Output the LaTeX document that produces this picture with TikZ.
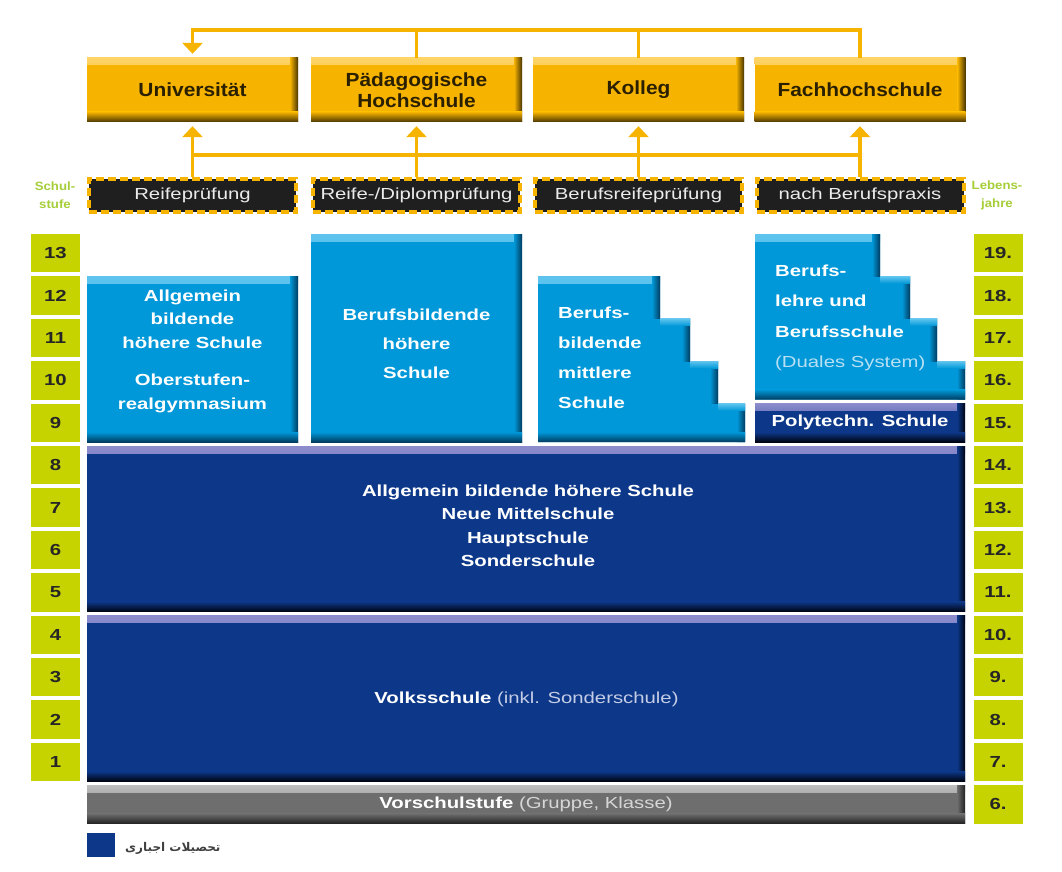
\documentclass[tikz,border=0pt]{standalone}
\usepackage{fontspec}
\usetikzlibrary{arrows.meta,calc}
\setmainfont{Liberation Sans}
\newfontfamily\hv[FakeStretch=1.27]{Liberation Sans}
\newfontfamily\hvy[FakeStretch=1.1]{Liberation Sans}
\newfontfamily\arabicfont[Script=Arabic]{DejaVu Sans}
\TeXXeTstate=1
\definecolor{yel}{HTML}{F6B400}
\definecolor{yell}{HTML}{FFD466}
\definecolor{yeld}{HTML}{4A3500}
\definecolor{lb}{HTML}{0098D8}
\definecolor{lbl}{HTML}{5EC4EE}
\definecolor{lbd}{HTML}{003C60}
\definecolor{db}{HTML}{0D3889}
\definecolor{dbl}{HTML}{8C8CCC}
\definecolor{dbd}{HTML}{000412}
\definecolor{gr}{HTML}{6E6E6E}
\definecolor{grl}{HTML}{BEBEBE}
\definecolor{grd}{HTML}{222222}
\definecolor{nbg}{HTML}{C6D300}
\definecolor{lgreen}{HTML}{A6CE39}
\definecolor{lbtxt}{HTML}{B8E0F4}
\definecolor{dbtxt}{HTML}{C4CCE6}
\definecolor{grtxt}{HTML}{D6D6D6}
\definecolor{ytxt}{HTML}{2A2000}
\begin{document}
\begin{tikzpicture}[x=1pt,y=-1pt,
  bevel/.style n args={3}{fill=#1, path picture={
    \shade[top color=#2, bottom color=#1] (path picture bounding box.north west) rectangle ([yshift=-7pt]path picture bounding box.north east);
    \shade[left color=#1, right color=#3] ([xshift=-8pt]path picture bounding box.north east) rectangle (path picture bounding box.south east);
    \shade[top color=#1, bottom color=#3] ([yshift=10pt]path picture bounding box.south west) rectangle (path picture bounding box.south east);
  }},
  ybox/.style={bevel={yel}{yell}{yeld}, minimum width=211pt, minimum height=64pt, inner sep=0pt,
    font=\hvy\bfseries\fontsize{19}{21}\selectfont, text=ytxt, align=center},
  exam/.style={fill=black!88, draw=yel, line width=4pt, dash pattern=on 8pt off 4pt,
    minimum width=207pt, minimum height=33pt, inner sep=0pt,
    font=\hv\fontsize{16}{18}\selectfont, text=black!8},
  conn/.style={draw=yel, line width=3.5pt},
  arr/.style={-{Triangle[width=20pt,length=11pt]}, shorten >=4pt},
  numbox/.style={fill=nbg, minimum width=49pt, minimum height=38.4pt, inner sep=0pt,
    font=\hv\bfseries\fontsize{16}{18}\selectfont, text=black!85},
  lbl/.style={font=\hvy\bfseries\fontsize{12}{18}\selectfont, text=lgreen, align=center, inner sep=0pt},
  lbbox/.style={bevel={lb}{lbl}{lbd}, inner sep=0pt},
  dbbox/.style={bevel={db}{dbl}{dbd}, inner sep=0pt},
  grbox/.style={bevel={gr}{grl}{grd}, inner sep=0pt},
  wtxt/.style={font=\hv\bfseries\fontsize{16}{23.5}\selectfont, text=white, inner sep=0pt},
  rstrip/.style={left color=lb, right color=lbd},
  tstrip/.style={top color=lbl, bottom color=lb},
]
\useasboundingbox (0,0) rectangle (1062,872);
\fill[white] (0,0) rectangle (1062,872);

% top level institutions
\node[ybox] (uni) at (192.5,90) {Universität};
\node[ybox] (paed) at (416.5,90) {Pädagogische\\Hochschule};
\node[ybox] (kolleg) at (638.5,90) {Kolleg};
\node[ybox] (fh) at (860,90) {Fachhochschule};

% exams
\node[exam] (e1) at (192.5,195.5) {Reifeprüfung};
\node[exam] (e2) at (416.5,195.5) {Reife-/Diplomprüfung};
\node[exam] (e3) at (638.5,195.5) {Berufsreifeprüfung};
\node[exam] (e4) at (860,195.5) {nach Berufspraxis};

% connectors
\coordinate (ytop) at (0,30);
\coordinate (ymid) at (0,155);
\draw[conn] (e1.north |- ymid) -- (e4.north |- ymid);
\foreach \e/\t in {e1/uni,e2/paed,e3/kolleg,e4/fh}
  \draw[conn,arr] (\e.north) -- (\t.south);
\draw[conn] (paed.north) -- (paed.north |- ytop);
\draw[conn] (kolleg.north) -- (kolleg.north |- ytop);
\draw[conn,arr] (fh.north) |- (uni.north |- ytop) -- (uni.north);

% side labels
\node[lbl] (schul) at (55,195) {Schul-\\stufe};
\node[lbl] (lebens) at (997,195) {Lebens-\\jahre};

% number boxes
\foreach \r in {1,...,13}{
  \pgfmathsetmacro\yy{253.2+(13-\r)*42.4}
  \node[numbox] (L\r) at (55.5,\yy) {\r};
}
\foreach \r in {0,...,13}{
  \pgfmathsetmacro\yy{253.2+(13-\r)*42.4}
  \pgfmathtruncatemacro\age{\r+6}
  \node[numbox] (R\r) at (998,\yy) {\age.};
}

% upper secondary
\node[lbbox, minimum width=211pt, minimum height=165.6pt] (ahs) at (192.5,359.2) {};
\node[wtxt, align=center] (ahs-t) at (192.5,351) {Allgemein\\bildende\\höhere Schule\\[14pt]Oberstufen-\\realgymnasium};

\node[lbbox, minimum width=211pt, minimum height=208pt] (bhs) at (416.5,338) {};
\node[wtxt, align=center, font=\hv\bfseries\fontsize{16}{29}\selectfont] (bhs-t) at (416.5,344) {Berufsbildende\\höhere\\Schule};

% BMS staircase
\path[bevel={lb}{lbl}{lbd}] (538,276.4) -- (660,276.4) -- (660,318.8) -- (690,318.8) -- (690,361.2)
  -- (718,361.2) -- (718,403.6) -- (745,403.6) -- (745,442) -- (538,442) -- cycle;
\shade[rstrip] (652,276.4) rectangle (660,318.8);
\shade[rstrip] (682,318.8) rectangle (690,361.2);
\shade[rstrip] (710,361.2) rectangle (718,403.6);
\shade[tstrip] (660,318.8) rectangle (690,325.8);
\shade[tstrip] (690,361.2) rectangle (718,368.2);
\shade[tstrip] (718,403.6) rectangle (745,410.6);
\node[wtxt, align=left, anchor=west, font=\hv\bfseries\fontsize{16}{30}\selectfont] (bms-t) at (558,358) {Berufs-\\bildende\\mittlere\\Schule};

% Berufslehre staircase
\path[bevel={lb}{lbl}{lbd}] (755,234) -- (880,234) -- (880,276.4) -- (910,276.4) -- (910,318.8)
  -- (937,318.8) -- (937,361.2) -- (965,361.2) -- (965,399.6) -- (755,399.6) -- cycle;
\shade[rstrip] (872,234) rectangle (880,276.4);
\shade[rstrip] (902,276.4) rectangle (910,318.8);
\shade[rstrip] (929,318.8) rectangle (937,361.2);
\shade[tstrip] (880,276.4) rectangle (910,283.4);
\shade[tstrip] (910,318.8) rectangle (937,325.8);
\shade[tstrip] (937,361.2) rectangle (965,368.2);
\node[wtxt, align=left, anchor=west, font=\hv\bfseries\fontsize{16}{30.5}\selectfont] (bl-t) at (775,318) {Berufs-\\lehre und\\Berufsschule\\{\mdseries\color{lbtxt}(Duales System)}};

\node[dbbox, minimum width=210pt, minimum height=38.4pt] (poly) at (860,422.8) {};
\node[wtxt] (poly-t) at (860,422.8) {Polytechn. Schule};

% lower secondary
\node[dbbox, minimum width=878pt, minimum height=165.6pt] (sek1) at (526,528.8) {};
\node[wtxt, align=center] (sek1-t) at (528,526) {Allgemein bildende höhere Schule\\Neue Mittelschule\\Hauptschule\\Sonderschule};

% primary
\node[dbbox, minimum width=878pt, minimum height=165.6pt] (volks) at (526,698.4) {};
\node[wtxt] (volks-t) at (526.5,699) {Volksschule {\mdseries\color{dbtxt}(inkl. Sonderschule)}};

% pre-school
\node[grbox, minimum width=878pt, minimum height=38.4pt] (vor) at (526,804.4) {};
\node[wtxt] (vor-t) at (526,804) {Vorschulstufe {\mdseries\color{grtxt}(Gruppe, Klasse)}};

% legend
\node[fill=db, minimum width=28pt, minimum height=24pt, inner sep=0pt] (leg) at (101,845) {};
\node[anchor=west, inner sep=0pt, font=\arabicfont\bfseries\fontsize{12}{14}\selectfont, text=black!75] (leg-t) at (125,848) {\beginR تحصیلات اجباری\endR};
\end{tikzpicture}
\end{document}
